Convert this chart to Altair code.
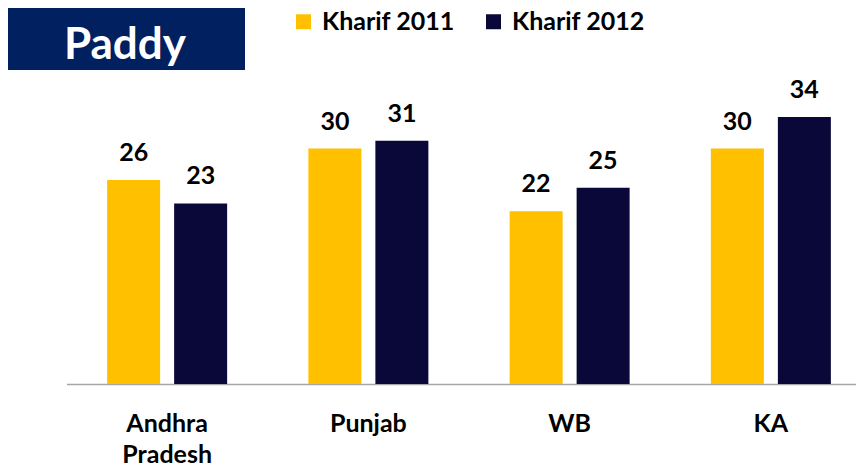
import altair as alt
import pandas as pd

states = ["Andhra Pradesh", "Punjab", "WB", "KA"]
kharif_2011 = [26, 30, 22, 30]
kharif_2012 = [23, 31, 25, 34]
seasons = ["Kharif 2011", "Kharif 2012"]
colors = ["#FFC000", "#0A0838"]
title_text = "Paddy"

rows = []
for s, a, b in zip(states, kharif_2011, kharif_2012):
    rows.append({"state": s, "season": seasons[0], "value": a})
    rows.append({"state": s, "season": seasons[1], "value": b})
df = pd.DataFrame(rows)

FONT = "Lato"

x_enc = alt.X(
    "state:N",
    sort=states,
    scale=alt.Scale(range=[-28.5, 776.5], paddingInner=0.4037, paddingOuter=0.2019),
    axis=alt.Axis(
        title=None,
        ticks=False,
        grid=False,
        domainColor="#A6A6A6",
        domainWidth=1.5,
        labelAngle=0,
        labelFont=FONT,
        labelFontSize=25,
        labelFontWeight="bold",
        labelColor="#000000",
        labelPadding=27,
        labelLineHeight=31,
        labelBaseline="top",
        labelExpr="split(datum.value, ' ')",
    ),
)
xo_enc = alt.XOffset(
    "season:N", sort=seasons, scale=alt.Scale(paddingInner=0.209, paddingOuter=0)
)
y_enc = alt.Y(
    "value:Q",
    scale=alt.Scale(domain=[0, 40], nice=False),
    axis=None,
)

base = alt.Chart(df)

bars = base.mark_bar().encode(
    x=x_enc,
    xOffset=xo_enc,
    y=y_enc,
    color=alt.Color(
        "season:N",
        sort=seasons,
        scale=alt.Scale(domain=seasons, range=colors),
        legend=alt.Legend(
            title=None,
            orient="none",
            direction="horizontal",
            legendX=196,
            legendY=-61,
            padding=0,
            symbolType="square",
            symbolSize=225,
            symbolStrokeWidth=0,
            labelFont=FONT,
            labelFontSize=25,
            labelFontWeight="bold",
            labelColor="#000000",
            labelOffset=6,
            columnPadding=26,
            labelLimit=300,
        ),
    ),
)

labels = base.mark_text(
    font=FONT, fontSize=25, fontWeight="bold", color="#000000", baseline="bottom", dy=-14
).encode(
    x=x_enc,
    xOffset=xo_enc,
    y=y_enc,
    text=alt.Text("value:Q"),
)

tdf = pd.DataFrame({"t": [title_text]})
title_box = alt.Chart(tdf).mark_rect(color="#002060").encode(
    x=alt.value(-87), x2=alt.value(150), y=alt.value(-62), y2=alt.value(0)
)
title_label = alt.Chart(tdf).mark_text(
    font=FONT, fontSize=44, fontWeight="bold", color="#FFFFFF", baseline="alphabetic", align="center"
).encode(x=alt.value(30), y=alt.value(-11), text="t:N")

chart = (
    alt.layer(bars, labels, title_box, title_label)
    .properties(
        width=761,
        height=314,
        autosize=alt.AutoSizeParams(type="none"),
        padding={"left": 87, "top": 62, "right": 0, "bottom": 82},
        view=alt.ViewBackground(stroke="transparent", strokeWidth=0),
    )
    .configure_view(stroke="transparent", strokeWidth=0)
    .configure_axis(grid=False)
    .configure(background="#FFFFFF")
)

chart.save("out.html", embed_options={"renderer": "svg", "actions": False})
